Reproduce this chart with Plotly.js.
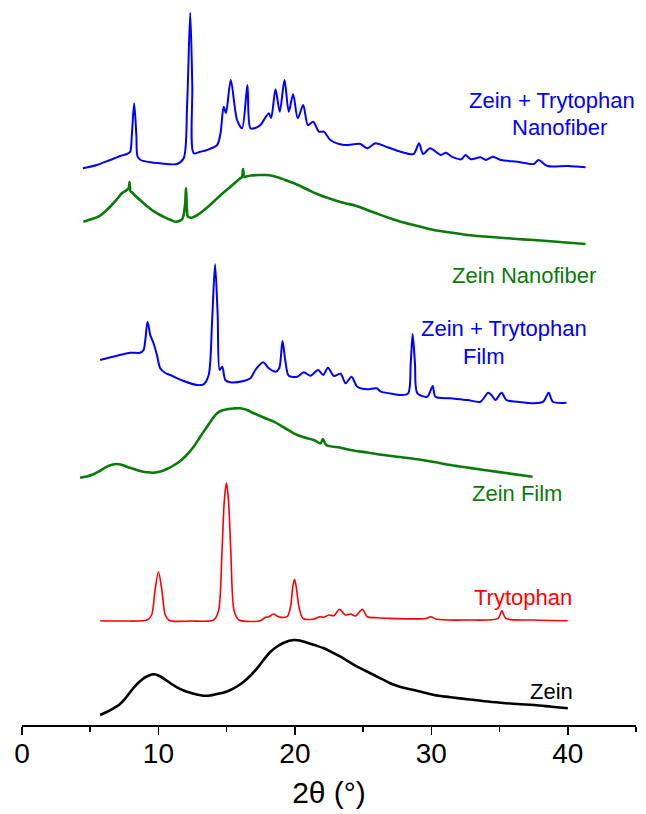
<!DOCTYPE html>
<html>
<head>
<meta charset="utf-8">
<script src="https://cdn.plot.ly/plotly-3.0.1.min.js"></script>
<style>
  html, body { margin: 0; padding: 0; background: #fff; }
  #chart { width: 646px; height: 814px; }
</style>
</head>
<body>
<div id="chart"></div>
<script>
// ---- Data (2θ in degrees, intensity in arbitrary units, stacked as in the figure) ----
const nfTrpX = [4.46,5.5,6.46,7.2,7.69,7.93,8.05,8.22,8.38,8.47,8.7,9.3,10.13,11.36,11.85,12.1,12.33,12.48,12.58,13.0,13.56,14.3,14.55,14.78,14.95,15.3,15.76,16.13,16.52,16.74,17.1,17.47,18.09,18.26,18.58,18.89,19.24,19.55,19.87,20.21,20.61,20.95,21.34,21.76,22.12,22.6,23.6,24.8,25.3,25.9,26.8,27.75,28.7,29.1,29.4,29.9,30.7,31.06,31.5,32.2,32.5,32.9,33.6,34.0,34.5,35.1,36.3,37.5,37.86,38.5,40.0,41.3];
const nfTrpY = [556.7,560,565,569,571,573.3,590,621.7,590,568.3,565,563,561.7,561,566.7,620,712.3,640,571.7,573,575,580,592,618.3,612,645,605,596.7,640,596.7,597,600,611.7,607,635.7,613.3,645,613.3,630.7,606.7,620,600,603.3,593.3,593.3,585,580,581,576.7,581.7,577.7,573.3,571,581.7,571,576.7,570,572.3,568.3,565.7,570,565.7,567.7,565,568.3,565,563.3,561,565,559,559,557.7];

const nfX = [4.5,5.0,5.6,6.1,6.58,7.0,7.32,7.68,7.82,7.88,7.95,8.05,8.4,8.79,9.15,9.52,10.0,10.5,10.9,11.23,11.6,11.77,11.95,12.02,12.09,12.16,12.45,12.8,13.19,13.7,14.17,14.65,15.15,15.6,16.0,16.12,16.2,16.28,16.37,16.8,17.35,17.85,18.33,18.8,19.3,19.9,20.5,21.0,21.5,22.2,22.86,23.6,24.45,25.3,25.9,26.8,27.75,29.0,30.2,31.4,32.65,33.9,35.1,36.3,37.5,39.4,41.3];
const nfY = [503.3,505.5,508.3,513.5,520,526.5,531.7,535,537,543,534,532.7,528,523.3,519,515,511,507.3,505,503.3,504.5,506.7,520,537,515,508.3,507.3,509.5,513.3,519,525,531,536.7,542,546.7,548,556,548,548.3,549.5,550,550,549.3,547.5,545,542,538.3,535,531.7,528,525,522,519.3,515,512,507.5,503.3,499,495,492.5,490,488.5,487.3,486,485,483,481];

const filmTrpX = [5.73,6.95,7.93,8.66,8.91,9.2,9.4,9.64,9.89,10.13,10.5,10.87,11.85,12.83,13.31,13.68,13.93,14.15,14.34,14.49,14.68,14.9,15.27,16.25,16.74,17.1,17.67,18.09,18.58,18.85,19.09,19.31,19.55,20.17,20.65,21.15,21.7,22.08,22.42,22.86,23.35,23.72,24.15,24.57,25.3,25.99,26.3,27.02,27.75,28.3,28.49,28.63,28.8,28.98,29.7,30.1,30.3,31.4,32.65,33.6,34.16,34.4,34.7,35.15,35.5,36.3,37.54,38.2,38.6,38.9,39.9];
const filmTrpY = [365,369.3,372.3,372.3,375,403.3,390,381.7,370,356.7,352,350,344,340,340.7,350,403.3,460.7,410,355,358.3,345,342.7,344,346.7,355,362.7,356.7,353.3,356.7,384,363.3,349.3,348.3,352.7,349.3,355,350,357.3,349,351.3,341.7,348.3,338.3,335.7,336.7,333.3,331.5,330,331.7,361.7,391,361.7,331.7,328.3,339,328.3,326.7,325,323.3,332.3,330,325,332.3,325,323.3,321.7,323.3,332.3,323.3,322.3];

const filmX = [4.26,4.75,5.24,5.75,6.22,6.6,6.95,7.3,7.68,8.2,8.66,9.15,9.64,10.15,10.62,11.1,11.6,12.1,12.58,13.05,13.56,13.95,14.3,14.65,15.03,15.5,16.0,16.5,16.98,17.7,18.45,19.2,19.92,20.6,21.39,21.88,22.05,22.3,23.35,24.08,25.3,26.5,27.7,28.98,30.2,31.4,32.6,33.87,35.6,37.42];
const filmY = [247.3,248.5,250.7,254.5,258.3,260.3,261,260.3,258.3,256,254,252.8,252.3,253.5,256,259.5,264,270.5,278.3,288,298.3,306,311.7,314.5,315.7,316.5,316.7,315,311.7,307.5,303.3,297.5,291.7,288,285,281.7,286,280,277.3,275,272.5,270,268,265.7,263,260,257.5,255,251.7,248.3];

const trpX = [5.73,7.44,9.16,9.5,9.75,10.0,10.25,10.5,10.8,12.33,14.05,14.4,14.66,14.83,14.98,15.13,15.3,15.55,15.9,17.47,17.84,18.1,18.45,18.8,19.43,19.68,19.84,19.97,20.1,20.3,20.6,21.39,21.83,22.1,22.49,22.86,23.27,23.7,24.08,24.45,24.94,25.3,26.04,26.8,29.6,29.96,30.4,32.65,34.9,35.17,35.45,37.5,40.0];
const trpY = [104.3,104,105,110,135,153.3,135,110,104.5,104,105,114,175,225,242.3,225,175,114,105,104.3,107.7,108.3,111,108.3,108.3,118,138,145.7,138,118,106.5,106,108.3,107.7,110,109.3,115.7,110,111,109,115.7,108.3,107.3,106.7,106.5,108.3,105.7,105,106.7,114.3,106.7,105,104.3];

const zeinX = [5.73,6.2,6.7,7.1,7.44,7.8,8.17,8.55,8.91,9.3,9.64,10.0,10.37,10.85,11.36,11.85,12.33,12.8,13.31,13.8,14.3,14.8,15.27,15.75,16.25,16.75,17.23,17.7,18.21,18.7,19.19,19.92,20.4,20.9,21.5,22.12,22.7,23.35,23.95,24.57,25.2,25.79,26.4,27.02,27.75,29.0,30.2,31.4,32.65,33.9,35.1,36.3,37.54,38.8,40.0];
const zeinY = [10,13,16.7,20,24.5,30.5,37,42.5,46.7,49.5,50.7,49.5,46.7,42,37.7,34.5,32.3,30.5,29.3,29.5,31,32.5,35,38.5,43.3,49.5,56.7,65,73.3,78.5,82.3,85,84.3,82.3,79.7,76.7,72.8,68.3,63.3,58.3,54,50,45.8,41.5,38,34,30,27.8,25.7,23.8,22.3,21,20,18.3,16.7];

const seriesNames = ['Zein + Trytophan Nanofiber','Zein Nanofiber','Zein + Trytophan Film','Zein Film','Trytophan','Zein'];
const tickVals = [0,10,20,30,40];
const tickText = ['0','10','20','30','40'];

// ---- Styling ----
const BLUE = '#0000ff', GREEN = '#0a7a0a', RED = '#ff0000', BLACK = '#000000';
const FONT = '"Liberation Sans", Arial, Helvetica, sans-serif';

function trace(x, y, color, width, smoothing, name) {
  return { x: x, y: y, type: 'scatter', mode: 'lines', name: name,
           line: { color: color, width: width, shape: 'spline', smoothing: smoothing },
           hoverinfo: 'skip' };
}

const data = [
  trace(nfTrpX, nfTrpY, BLUE, 2, 0.8, seriesNames[0]),
  trace(nfX, nfY, GREEN, 2.6, 1.0, seriesNames[1]),
  trace(filmTrpX, filmTrpY, BLUE, 2, 0.8, seriesNames[2]),
  trace(filmX, filmY, GREEN, 2.6, 1.0, seriesNames[3]),
  trace(trpX, trpY, RED, 1.6, 0.8, seriesNames[4]),
  trace(zeinX, zeinY, BLACK, 2.6, 1.0, seriesNames[5])
];

function label(text, x, y, color) {
  return { text: text, x: x, y: y, xref: 'x', yref: 'y', showarrow: false,
           xanchor: 'center', yanchor: 'middle',
           font: { family: FONT, size: 22, color: color } };
}

const layout = {
  width: 646, height: 814,
  margin: { l: 22, r: 10, t: 10, b: 89 },
  paper_bgcolor: '#ffffff', plot_bgcolor: '#ffffff',
  showlegend: false,
  font: { family: FONT, color: '#000' },
  xaxis: {
    range: [0, 45], showgrid: false, zeroline: false,
    showline: true, linecolor: '#000', linewidth: 1.5,
    ticks: 'outside', ticklen: 8, tickwidth: 1.5, tickcolor: '#000',
    tickvals: tickVals, ticktext: tickText,
    tickfont: { family: FONT, size: 28, color: '#000' },
    ticklabelstandoff: -5,
    minor: { dtick: 5, tick0: 0, ticks: 'outside', ticklen: 5, tickwidth: 1.5, tickcolor: '#000', showgrid: false },
    title: { text: '2θ (°)', font: { family: FONT, size: 30, color: '#000' }, standoff: 14 },
    automargin: false, fixedrange: true
  },
  yaxis: { range: [0, 715], visible: false, showgrid: false, zeroline: false, fixedrange: true },
  annotations: [
    label('Zein + Trytophan', 38.86, 625, BLUE),
    label('Nanofiber', 39.38, 597.3, BLUE),
    label('Zein Nanofiber', 36.81, 450, GREEN),
    label('Zein + Trytophan', 35.34, 396.7, BLUE),
    label('Film', 33.87, 369, BLUE),
    label('Zein Film', 36.26, 231.7, GREEN),
    label('Trytophan', 36.75, 127.7, RED),
    label('Zein', 38.77, 33.3, BLACK)
  ]
};

Plotly.newPlot('chart', data, layout, { staticPlot: true, displayModeBar: false });
</script>
</body>
</html>
